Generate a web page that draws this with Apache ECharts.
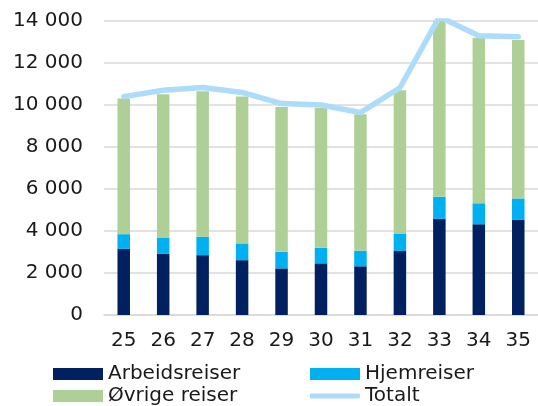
<!DOCTYPE html>
<html>
<head>
<meta charset="utf-8">
<script src="https://cdn.jsdelivr.net/npm/echarts@6/dist/echarts.min.js"></script>
<style>
  html, body { margin: 0; padding: 0; background: #fff; }
  #chart { width: 538px; height: 406px; }
</style>
</head>
<body>
<div id="chart"></div>
<script>
// uker
var categories = ['25', '26', '27', '28', '29', '30', '31', '32', '33', '34', '35'];
var arbeidsreiser = [3150, 2910, 2850, 2610, 2220, 2460, 2320, 3050, 4580, 4320, 4530];
var hjemreiser = [700, 780, 880, 800, 790, 740, 740, 810, 1050, 1000, 1020];
var ovrigeReiser = [6460, 6820, 6920, 7000, 6900, 6660, 6500, 6840, 8500, 7880, 7540];
var totalt = [10400, 10700, 10830, 10600, 10070, 10000, 9640, 10820, 14200, 13300, 13250];

var font = '"DejaVu Sans", sans-serif';
var textColor = '#1a1a1a';

function legendAt(name, left, top, extra) {
    var lg = {
        data: [name],
        left: left,
        top: top,
        itemWidth: 50,
        itemHeight: 12,
        itemGap: 6,
        icon: 'rect',
        textStyle: { fontFamily: font, fontSize: 20, color: textColor, padding: [0, 0, 0, 0] },
        padding: 0
    };
    if (extra) {
        for (var k in extra) lg[k] = extra[k];
    }
    return lg;
}

var myChart = echarts.init(document.getElementById('chart'));
var option = {
    animation: false,
    grid: { left: 104, right: -2, top: 21, bottom: 91 },
    legend: [
        legendAt('Arbeidsreiser', 53, 364),
        legendAt('Hjemreiser', 310, 364),
        legendAt('Øvrige reiser', 53, 386),
        legendAt('Totalt', 310, 386, { icon: 'roundRect', itemHeight: 5 })
    ],
    xAxis: {
        type: 'category',
        data: categories,
        axisLine: { lineStyle: { color: '#d9d9d9', width: 1.5 } },
        axisTick: { show: false },
        axisLabel: { fontFamily: font, fontSize: 20, color: textColor, margin: 16 }
    },
    yAxis: {
        type: 'value',
        min: 0,
        max: 14000,
        interval: 2000,
        axisLine: { show: false },
        axisTick: { show: false },
        splitLine: { lineStyle: { color: '#d9d9d9', width: 1.5 } },
        axisLabel: {
            fontFamily: font, fontSize: 20, color: textColor, margin: 21,
            formatter: function (v) {
                return String(v).replace(/\B(?=(\d{3})+(?!\d))/g, ' ');
            }
        }
    },
    series: [
        { name: 'Arbeidsreiser', type: 'bar', stack: 'sum', barWidth: 12.5, data: arbeidsreiser,
          itemStyle: { color: '#002060' } },
        { name: 'Hjemreiser', type: 'bar', stack: 'sum', barWidth: 12.5, data: hjemreiser,
          itemStyle: { color: '#00b0f0' } },
        { name: 'Øvrige reiser', type: 'bar', stack: 'sum', barWidth: 12.5, data: ovrigeReiser,
          itemStyle: { color: '#aed096' } },
        { name: 'Totalt', type: 'line', data: totalt, symbol: 'none', smooth: false,
          lineStyle: { color: '#addcfa', width: 5.5, cap: 'round', join: 'round' },
          itemStyle: { color: '#addcfa' } }
    ]
};
myChart.setOption(option);
</script>
</body>
</html>
